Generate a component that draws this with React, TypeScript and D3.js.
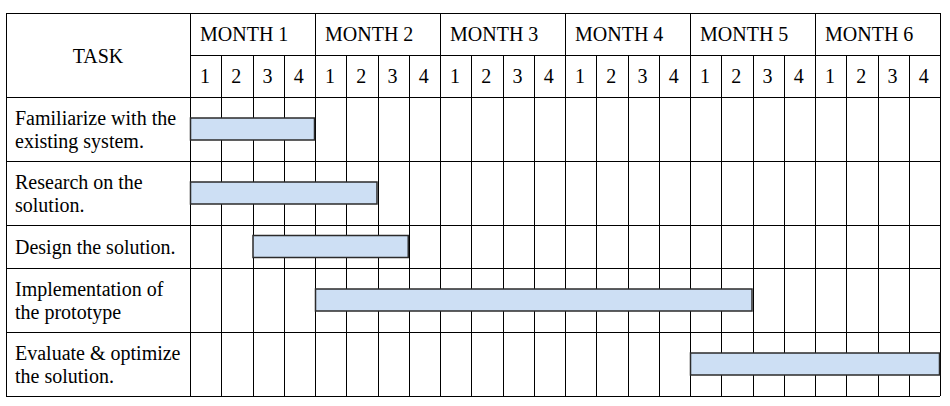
import * as d3 from 'd3'
import { useEffect, useRef } from 'react';

const tasks = [
    ["Familiarize with the", "existing system."],
    ["Research on the", "solution."],
    ["Design the solution."],
    ["Implementation of", "the prototype"],
    ["Evaluate & optimize", "the solution."]
];
// start / end in weeks from the start of month 1
const starts = [0, 0, 2, 4, 16];
const ends = [4, 6, 7, 18, 24];
const months = ["MONTH 1", "MONTH 2", "MONTH 3", "MONTH 4", "MONTH 5", "MONTH 6"];
const weekLabels = ["1", "2", "3", "4"];

function drawGantt( svgEl: SVGSVGElement ) {
    const svg = d3.select( svgEl );
    svg.selectAll( "*" ).remove();

    const left = 6, taskW = 184, right = 940, top = 13, hdr = 42;
    const font = "'Liberation Serif', 'Times New Roman', serif";
    const x = d3.scaleLinear().domain( [0, months.length * 4] ).range( [left + taskW, right] );

    // row heights from number of lines
    const rowH = tasks.map( t => t.length > 1 ? 64 : 43 );
    const rowY: number[] = [];
    let y0 = top + hdr * 2;
    rowH.forEach( h => { rowY.push( y0 ); y0 += h; } );
    const bottom = y0;

    const g = svg.append( "g" );
    const line = ( x1: number, y1: number, x2: number, y2: number ) =>
        g.append( "line" ).attr( "x1", x1 ).attr( "y1", y1 ).attr( "x2", x2 ).attr( "y2", y2 )
            .attr( "stroke", "#000" ).attr( "stroke-width", 1 ).attr( "shape-rendering", "crispEdges" );

    // horizontal lines
    line( left, top, right, top );
    line( left + taskW, top + hdr, right, top + hdr );
    rowY.forEach( y => line( left, y, right, y ) );
    line( left, bottom, right, bottom );

    // vertical lines
    line( left, top, left, bottom );
    d3.range( 0, months.length * 4 + 1 ).forEach( i => {
        const xi = Math.round( x( i ) );
        line( xi, i % 4 === 0 ? top : top + hdr, xi, bottom );
    } );

    const txt = ( tx: number, ty: number, s: string, anchor = "start" ) =>
        g.append( "text" ).attr( "x", tx ).attr( "y", ty ).attr( "text-anchor", anchor )
            .attr( "font-family", font ).attr( "font-size", 20 ).attr( "fill", "#000" ).text( s );

    txt( left + taskW / 2, top + hdr + 8, "TASK", "middle" );
    months.forEach( ( m, i ) => {
        txt( x( i * 4 ) + 10, top + 28, m );
        weekLabels.forEach( ( w, j ) => txt( x( i * 4 + j ) + 10, top + hdr + 28, w ) );
    } );

    tasks.forEach( ( t, i ) => {
        const n = t.length;
        const cy = rowY[i] + rowH[i] / 2;
        t.forEach( ( s, k ) => txt( left + 9, cy + 7 + ( k - ( n - 1 ) / 2 ) * 23, s ) );
    } );

    // bars
    g.selectAll( "rect.bar" ).data( tasks ).enter().append( "rect" )
        .classed( "bar", true )
        .attr( "x", ( d, i ) => x( starts[i] ) + 0.5 )
        .attr( "y", ( d, i ) => rowY[i] + rowH[i] / 2 - 11 )
        .attr( "width", ( d, i ) => x( ends[i] ) - x( starts[i] ) - 1 )
        .attr( "height", 22 )
        .attr( "fill", "#cddff4" )
        .attr( "stroke", "#2b2b2b" ).attr( "stroke-width", 1.5 );
}

function App() {
    const ref = useRef<SVGSVGElement>( null );
    useEffect( () => {
        if ( ref.current ) drawGantt( ref.current );
    } );

    return (
        <svg ref={ref} width="950" height="406"
            style={{ position: "absolute", left: 0, top: 0, background: "#fff" }}>
        </svg>
    );
}

export default App;
